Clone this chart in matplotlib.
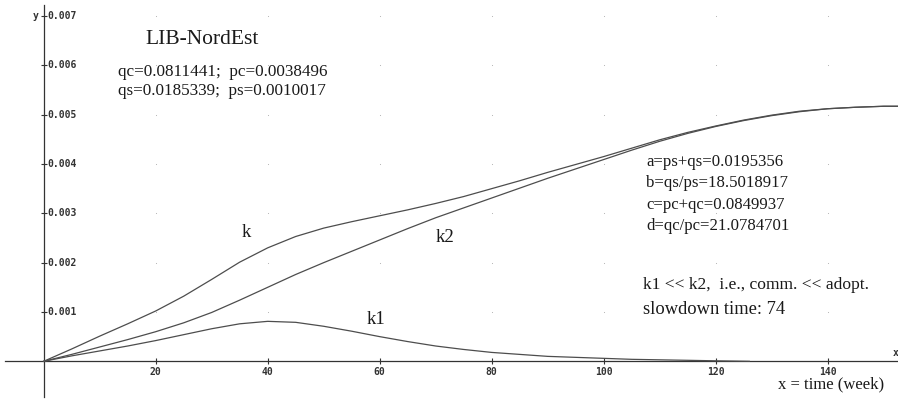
import numpy as np
import matplotlib
matplotlib.use("Agg")
import matplotlib.pyplot as plt

# weeks and the three response curves (k = total, k1 = communication, k2 = adoption)
weeks = [0, 5, 10, 15, 20, 25, 30, 35, 40, 45, 50, 55, 60, 65, 70, 75, 80,
         85, 90, 95, 100, 105, 110, 115, 120, 125, 130, 135, 140, 145, 150, 152.5]
k_vals = [0, 0.00025, 0.00051, 0.00076, 0.00102, 0.00132, 0.00166, 0.00201,
          0.00230, 0.00253, 0.00270, 0.00283, 0.00295, 0.00307, 0.00320, 0.00334,
          0.00350, 0.00366, 0.00383, 0.00399, 0.00415, 0.00432, 0.00449, 0.00464,
          0.00477, 0.00489, 0.00499, 0.00507, 0.00512, 0.00515, 0.00517, 0.00517]
k2_vals = [0, 0.00014, 0.00029, 0.00044, 0.00060, 0.00078, 0.00099, 0.00124,
           0.00150, 0.00176, 0.00200, 0.00223, 0.00246, 0.00269, 0.00291, 0.00311,
           0.00331, 0.00351, 0.00371, 0.00390, 0.00409, 0.00428, 0.00446, 0.00462,
           0.00476, 0.00488, 0.00498, 0.00506, 0.00512, 0.00515, 0.00517, 0.00517]
k1_weeks = [0, 5, 10, 15, 20, 25, 30, 35, 40, 45, 50, 55, 60, 65, 70, 75, 80,
            85, 90, 95, 100, 105, 110, 115, 120, 126]
k1_vals = [0, 0.00011, 0.00021, 0.00031, 0.00042, 0.00054, 0.00066, 0.00076,
           0.00081, 0.00079, 0.00071, 0.00061, 0.00050, 0.00040, 0.00031, 0.00024,
           0.00018, 0.00014, 0.00010, 0.00008, 0.00006, 0.00004, 0.00003, 0.00002,
           0.00001, 0.0]

x_ticks = [20, 40, 60, 80, 100, 120, 140]
y_ticks = [0.001, 0.002, 0.003, 0.004, 0.005, 0.006, 0.007]
y_tick_labels = ["0.001", "0.002", "0.003", "0.004", "0.005", "0.006", "0.007"]

W, H = 898, 401
fig = plt.figure(figsize=(W / 100, H / 100), dpi=100)
ax = fig.add_axes([0, 0, 1, 1])
ax.set_facecolor("white")

# pixel scale: 5.6 px per week, 49.33 px per 0.001, origin at (43.7, 361.3)
ax.set_xlim(-43.7 / 5.6, (W - 43.7) / 5.6)
ax.set_ylim(-(H - 361.3) / 49330, 361.3 / 49330)

def px(x, y):
    return x / W, 1 - y / H

axis_col = "#333333"
line_col = "#4d4d4d"
mono = dict(family="DejaVu Sans Mono", weight="bold", size=7, color=axis_col)

# axes crossing at the origin
for side in ["top", "right"]:
    ax.spines[side].set_visible(False)
ax.spines["left"].set_position(("data", 0))
ax.spines["bottom"].set_position(("data", 0))
ax.spines["left"].set_bounds(-0.00073, 0.00722)
ax.spines["bottom"].set_bounds(-6.9, ax.get_xlim()[1])
for side in ["left", "bottom"]:
    ax.spines[side].set_color(axis_col)
    ax.spines[side].set_linewidth(0.9)

ax.set_xticks(x_ticks)
ax.set_xticklabels([str(t) for t in x_ticks], fontdict=mono)
ax.set_yticks(y_ticks)
ax.tick_params(axis="both", direction="inout", length=5, width=0.8, color=axis_col)
ax.tick_params(axis="x", pad=1.5)
ax.tick_params(axis="y", labelleft=False)
for t, lab in zip(y_ticks, y_tick_labels):
    ax.text(0.6, t, lab, ha="left", va="center", **mono)

# faint dots where the grid lines would cross
gx, gy = np.meshgrid(x_ticks, y_ticks)
ax.scatter(gx.ravel(), gy.ravel(), s=0.6, color="#b0b0b0", linewidths=0, zorder=1)

ax.plot(weeks, k_vals, color=line_col, lw=0.9, zorder=3)
ax.plot(weeks, k2_vals, color=line_col, lw=0.9, zorder=3)
ax.plot(k1_weeks, k1_vals, color=line_col, lw=0.9, zorder=3)

ax.text(*px(36, 16), "y", transform=ax.transAxes, ha="center", va="center", **mono)
ax.text(*px(896, 353), "x", transform=ax.transAxes, ha="center", va="center", **mono)

serif = dict(family="Liberation Serif", color="#1a1a1a", transform=ax.transAxes, va="center")
ax.text(*px(145, 40), "LIB-NordEst", fontsize=15.5, ha="left", **serif)
ax.text(*px(118, 72), "qc=0.0811441;  pc=0.0038496", fontsize=12.3, ha="left", **serif)
ax.text(*px(118, 91), "qs=0.0185339;  ps=0.0010017", fontsize=12.3, ha="left", **serif)

params = ["a=ps+qs=0.0195356", "b=qs/ps=18.5018917",
          "c=pc+qc=0.0849937", "d=qc/pc=21.0784701"]
for i, s in enumerate(params):
    ax.text(*px(646, 162 + i * 21.3), s, fontsize=12.1, ha="left", **serif)

ax.text(*px(643, 285), "k1 << k2,  i.e., comm. << adopt.", fontsize=12.6, ha="left", **serif)
ax.text(*px(643, 309), "slowdown time: 74", fontsize=13.3, ha="left", **serif)
ax.text(*px(778, 384), "x = time (week)", fontsize=12, ha="left", **serif)

ax.text(*px(246, 232), "k", fontsize=13.5, ha="center", **serif)
ax.text(*px(445, 238), "k2", fontsize=13.5, ha="center", **serif)
ax.text(*px(376, 320), "k1", fontsize=13.5, ha="center", **serif)

fig.savefig("out.png", dpi=100, facecolor="white")
